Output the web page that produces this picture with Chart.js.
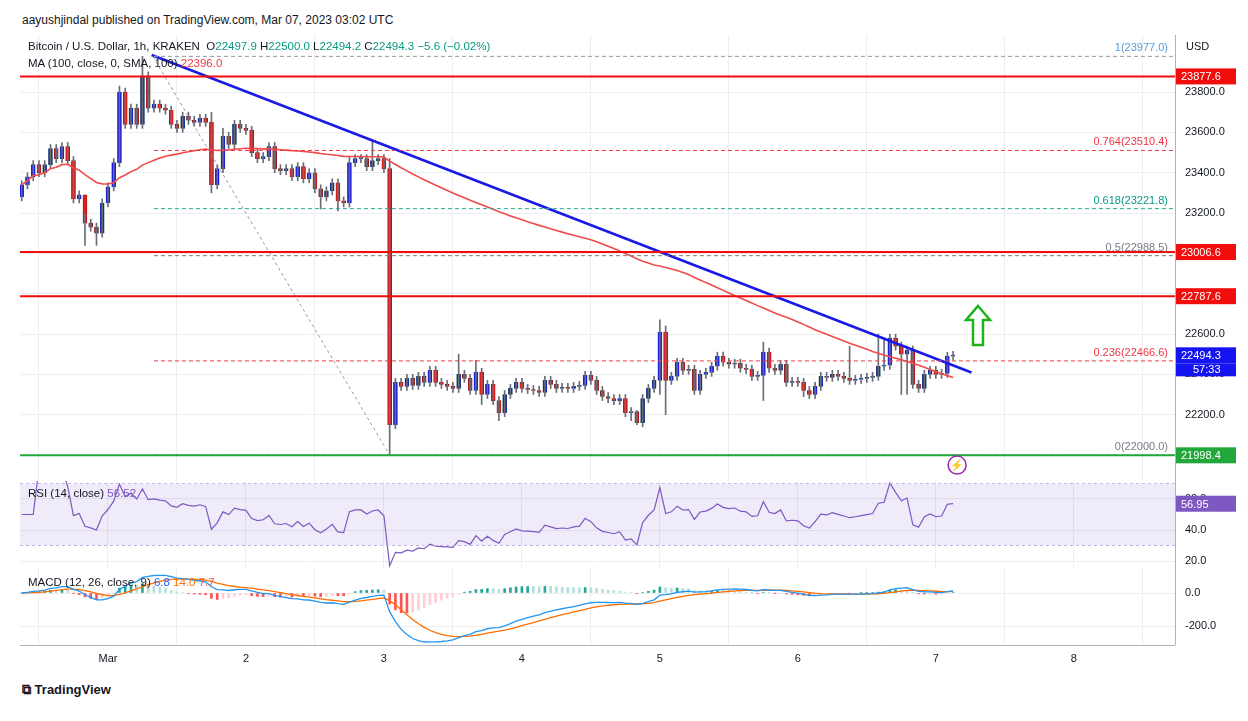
<!DOCTYPE html>
<html><head><meta charset="utf-8">
<script src="https://cdn.jsdelivr.net/npm/chart.js@4.4.0/dist/chart.umd.min.js"></script>
<style>
body{margin:0;width:1248px;height:721px;background:#fff;font-family:"Liberation Sans",Arial,sans-serif;position:relative;overflow:hidden}
.c{position:absolute;left:20px;width:1228px}
.t{position:absolute;font-size:11.5px;color:#131722;white-space:nowrap}
</style></head><body>
<div class="t" style="left:22px;top:13px;font-size:12px">aayushjindal published on TradingView.com, Mar 07, 2023 03:02 UTC</div>
<div class="c" style="top:35px;height:446px"><canvas id="main"></canvas></div>
<div class="c" style="top:481px;height:87px"><canvas id="rsi"></canvas></div>
<div class="c" style="top:568px;height:104px"><canvas id="macd"></canvas></div>
<div class="t" style="left:28px;top:40px">Bitcoin / U.S. Dollar, 1h, KRAKEN&nbsp; O<span style="color:#089981">22497.9</span> H<span style="color:#089981">22500.0</span> L<span style="color:#089981">22494.2</span> C<span style="color:#089981">22494.3</span> <span style="color:#089981">−5.6 (−0.02%)</span></div>
<div class="t" style="left:28px;top:57px">MA (100, close, 0, SMA, 100) <span style="color:#f23645">22396.0</span></div>
<div class="t" style="left:28px;top:487px">RSI (14, close) <span style="color:#7e57c2">56.52</span></div>
<div class="t" style="left:28px;top:576px">MACD (12, 26, close, 9) <span style="color:#2962ff">6.8</span> <span style="color:#ff6d00">14.0</span> <span style="color:#ef5350">7.7</span></div>
<div class="t" style="left:1186px;top:40px;font-size:11px">USD</div>
<div class="t" style="left:22px;top:682px;font-size:13px;font-weight:bold">⧉ TradingView</div>
<svg style="position:absolute;left:963px;top:304px" width="30" height="44"><path d="M15 2 L27 16 L20 16 L20 41 L10 41 L10 16 L3 16 Z" fill="none" stroke="#1db31d" stroke-width="2.5"/></svg>
<script>
const startOpen = 23280;
const closes = [23340,23380,23440,23400,23440,23520,23470,23530,23460,23270,23290,23150,23130,23100,23250,23330,23450,23800,23640,23720,23640,23880,23720,23740,23720,23710,23640,23620,23680,23660,23650,23670,23650,23340,23420,23580,23540,23640,23620,23610,23500,23470,23480,23530,23420,23410,23420,23380,23430,23370,23400,23320,23280,23310,23350,23260,23250,23450,23470,23470,23430,23460,23470,23420,22150,
22360,22340,22380,22345,22390,22360,22420,22360,22350,22340,22330,22400,22380,22320,22410,22300,22350,22270,22210,22300,22330,22360,22330,22325,22320,22310,22370,22350,22330,22335,22330,22340,22345,22395,22370,22320,22290,22280,22270,22280,22210,22215,22160,22280,22330,22370,22610,22370,22390,22460,22420,22425,22320,22400,22410,22440,22490,22460,22450,22455,22430,22425,22390,22395,22510,22430,22420,22450,22360,22365,22360,22320,22300,22340,22390,22385,22400,22390,22380,22370,22375,22380,22385,22390,22440,22445,22580,22540,22500,22520,22350,22330,22400,22420,22400,22405,22490,22494];
const highs = {17:23830,21:23977,22:23900,11:23200,33:23700,35:23620,57:23480,61:23560,64:23470,76:22500,79:22470,107:22220,111:22670,112:22640,129:22560,144:22540,149:22600,150:22580};
const lows = {11:23040,13:23040,33:23300,52:23220,55:23210,64:22000,80:22250,83:22170,106:22170,107:22150,111:22300,112:22200,117:22300,129:22270,136:22290,153:22300,154:22300};
const dayTicks = [15,39,63,87,111,135,159,183];
const dayLabels = ['Mar','2','3','4','5','6','7','8'];
const priceTicks = [22200,22400,22600,22800,23000,23200,23400,23600,23800];
const rsiTicks = [20,40,60];
const macdTicks = [-200,0];
const hLines = [{v:23877.6,c:'#f20d0d'},{v:23006.6,c:'#f20d0d'},{v:22787.6,c:'#f20d0d'},{v:21998.4,c:'#22a83a'}];
const fibs = [{r:'1',v:23977.0,c:'#5b9bd5',d:'#9598a1'},{r:'0.764',v:23510.4,c:'#f23645',d:'#f23645'},{r:'0.618',v:23221.8,c:'#089981',d:'#22ab94'},{r:'0.5',v:22988.5,c:'#787b86',d:'#787b86'},{r:'0.236',v:22466.6,c:'#f23645',d:'#f23645'},{r:'0',v:22000.0,c:'#787b86',d:'#9598a1'}];
const trend = [{x:22.6,y:23984},{x:165.2,y:22409}];
const fibDiag = [{x:22.8,y:23977},{x:64,y:22000}];

const opens = closes.map((c,i)=> i===0?startOpen:closes[i-1]);
const bodies = closes.map((c,i)=>({x:i,y:[opens[i],c]}));
const wicks = closes.map((c,i)=>({x:i,y:[lows[i]??Math.min(opens[i],c)-20, highs[i]??Math.max(opens[i],c)+20]}));
const cols = closes.map((c,i)=> c>=opens[i]?'#1414f0':'#f01414');
const ma = closes.map((c,i)=>{const s=closes.slice(Math.max(0,i-99),i+1);return {x:i,y:s.reduce((a,b)=>a+b,0)/s.length};});
const rsi=[];let ag=0,al=0;
closes.forEach((c,i)=>{const p=i?closes[i-1]:startOpen;const g=Math.max(c-p,0),l=Math.max(p-c,0);
 if(i<14){ag+=g/14;al+=l/14;}else{ag=(ag*13+g)/14;al=(al*13+l)/14;}
 rsi.push({x:i,y: i<3?50:100-100/(1+ag/(al||1e-9))});});
function ema(arr,n){const k=2/(n+1);let e=arr[0];return arr.map(v=>e=v*k+e*(1-k));}
const e12=ema(closes,12),e26=ema(closes,26);
const macdV=closes.map((c,i)=>e12[i]-e26[i]);
const sig=ema(macdV,9);
const hist=macdV.map((m,i)=>m-sig[i]);

const XMIN=-0.3,XMAX=200.6;
const xScale={type:'linear',min:XMIN,max:XMAX,offset:false,
 grid:{color:'#eceef2',drawTicks:false},border:{display:false},
 afterFit:s=>{s.height=0;},
 afterBuildTicks:s=>{s.ticks=dayTicks.map(v=>({value:v}));},
 ticks:{display:false}};
function yRight(min,max,ticks){return {position:'right',min,max,
 afterFit:s=>{s.width=73;},grid:{color:'#eceef2',drawTicks:false},border:{display:false},
 afterBuildTicks:s=>{s.ticks=ticks.map(v=>({value:v}));},
 ticks:{display:false}};}
Chart.defaults.animation=false;Chart.defaults.font.family='"Liberation Sans",Arial,sans-serif';
const common={responsive:true,maintainAspectRatio:false,plugins:{legend:{display:false},tooltip:{enabled:false}}};

function yLabels(ch,ticks){const c=ch.ctx,a=ch.chartArea;c.save();c.font='11px "Liberation Sans"';c.fillStyle='#131722';c.textBaseline='middle';
 ticks.forEach(v=>c.fillText(v.toFixed(1),a.right+10,ch.scales.y.getPixelForValue(v)));c.restore();}
function frame(ch,full){const c=ch.ctx,a=ch.chartArea;c.save();c.strokeStyle='#b0b3bb';c.beginPath();c.moveTo(a.left,a.bottom+0.5);c.lineTo(a.right,a.bottom+0.5);c.moveTo(a.right+0.5,0);c.lineTo(a.right+0.5,full?ch.height:a.bottom);c.stroke();c.restore();}
function label(ctx,area,y,txt,bg,fg){ctx.save();ctx.font='11px "Liberation Sans"';ctx.fillStyle=bg;ctx.fillRect(area.right+1,y-8,60,16);ctx.fillStyle=fg;ctx.textBaseline='middle';ctx.fillText(txt,area.right+6,y+1);ctx.restore();}

const mainPlugin={id:'mp',afterDraw(ch){const c=ch.ctx,a=ch.chartArea,y=ch.scales.y;
 yLabels(ch,priceTicks);frame(ch,true);
 c.save();c.font='11px "Liberation Sans"';c.textAlign='right';
 fibs.forEach(f=>{c.fillStyle=f.c;c.fillText(f.r+'('+f.v.toFixed(1)+')',a.right-7,y.getPixelForValue(f.v)-5);});c.restore();
 hLines.forEach(h=>label(c,a,y.getPixelForValue(h.v),h.v.toFixed(1),h.c,'#fff'));
 const py=y.getPixelForValue(22494.3);
 label(c,a,py,'22494.3','#1414f0','#fff');
 c.save();c.fillStyle='#1414f0';c.fillRect(a.right+1,py+8,60,13);c.fillStyle='#fff';c.font='11px "Liberation Sans"';c.fillText('57:33',a.right+18,py+18);
 const bx=ch.scales.x.getPixelForValue(162.7),by=y.getPixelForValue(21950);
 c.strokeStyle='#9c27b0';c.lineWidth=1.5;c.beginPath();c.arc(bx,by,9,0,7);c.stroke();c.fillStyle='#9c27b0';c.font='11px sans-serif';c.textAlign='center';c.fillText('⚡',bx,by+4);c.restore();
}};
const lineDs=(data,color,w,dash)=>({type:'line',data,borderColor:color,borderWidth:w,borderDash:dash||[],pointRadius:0,fill:false});
const ds=[];
hLines.forEach(h=>ds.push(lineDs([{x:XMIN,y:h.v},{x:XMAX,y:h.v}],h.c,2)));
fibs.forEach(f=>ds.push(lineDs([{x:23,y:f.v},{x:XMAX,y:f.v}],f.d,1,[4,3])));
ds.push(lineDs(fibDiag,'#9598a1',1,[3,3]));
ds.push(lineDs(ma,'#f04a4a',1.6));
ds.push(lineDs(trend,'#1a1ae6',2.6));
ds.push({type:'bar',data:wicks,backgroundColor:'#6a6d78',barThickness:1,grouped:false});
ds.push({type:'bar',data:bodies,backgroundColor:cols,borderColor:cols.map(c=>c==='#1414f0'?'#1f4f4f':'#5a2020'),borderWidth:0.6,barThickness:4,grouped:false,borderSkipped:false,minBarLength:1});
new Chart(document.getElementById('main'),{type:'bar',data:{datasets:ds},plugins:[mainPlugin],
 options:{...common,layout:{padding:0},scales:{x:xScale,y:yRight(21871,24083,priceTicks)}}});

const rsiPlugin={id:'rp',afterDraw(ch){yLabels(ch,rsiTicks);frame(ch,true);
 const v=rsi[rsi.length-1].y;label(ch.ctx,ch.chartArea,ch.scales.y.getPixelForValue(v),v.toFixed(2),'#7e57c2','#fff');}};
new Chart(document.getElementById('rsi'),{type:'line',data:{datasets:[
 {data:[{x:XMIN,y:70},{x:XMAX,y:70}],borderColor:'#c9b9e6',borderWidth:1,borderDash:[3,3],pointRadius:0,fill:'+1',backgroundColor:'rgba(126,87,194,0.12)'},
 {data:[{x:XMIN,y:30},{x:XMAX,y:30}],borderColor:'#c9b9e6',borderWidth:1,borderDash:[3,3],pointRadius:0,fill:false},
 {data:rsi,borderColor:'#7e57c2',borderWidth:1.2,pointRadius:0,fill:false}]},plugins:[rsiPlugin],
 options:{...common,layout:{padding:0},scales:{x:xScale,y:yRight(15.5,71.6,rsiTicks)}}});

const macdPlugin={id:'mm',afterDraw(ch){yLabels(ch,macdTicks);frame(ch,false);
 const c=ch.ctx;c.save();c.font='11px "Liberation Sans"';c.fillStyle='#131722';c.textAlign='center';
 dayTicks.forEach((v,i)=>c.fillText(dayLabels[i],ch.scales.x.getPixelForValue(v),ch.chartArea.bottom+17));c.restore();}};
const hcol=hist.map((h,i)=>{const p=i?hist[i-1]:0;return h>=0?(h>=p?'#26a69a':'#b2dfdb'):(h<p?'#ff5252':'#ffcdd2');});
new Chart(document.getElementById('macd'),{type:'bar',data:{datasets:[
 {type:'line',data:macdV.map((v,i)=>({x:i,y:v})),borderColor:'#2196f3',borderWidth:1.3,pointRadius:0},
 {type:'line',data:sig.map((v,i)=>({x:i,y:v})),borderColor:'#ff6d00',borderWidth:1.3,pointRadius:0},
 {type:'bar',data:hist.map((v,i)=>({x:i,y:v})),backgroundColor:hcol,barThickness:2}]},plugins:[macdPlugin],
 options:{...common,layout:{padding:{bottom:27}},scales:{x:xScale,y:yRight(-315,151.5,macdTicks)}}});
</script></body></html>
